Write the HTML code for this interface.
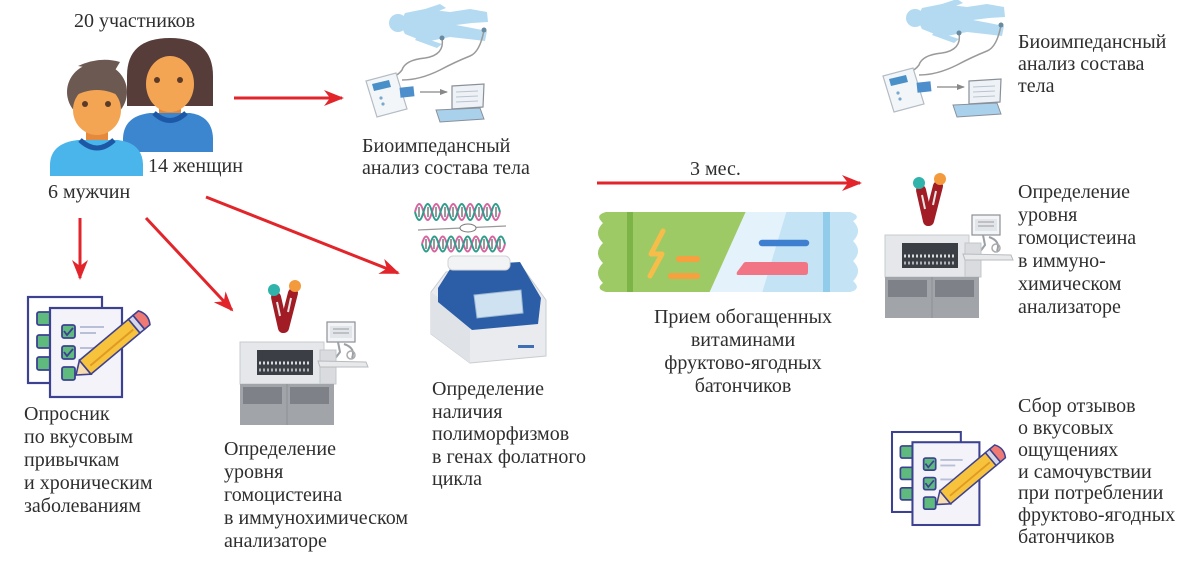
<!DOCTYPE html>
<html><head><meta charset="utf-8"><style>
html,body{margin:0;padding:0;background:#fff;}
svg{display:block;}
text{font-family:"Liberation Serif","DejaVu Serif",serif;font-size:20px;fill:#2e2e2e;}
</style></head><body>
<svg width="1200" height="563" viewBox="0 0 1200 563" xmlns="http://www.w3.org/2000/svg">
<defs>
<marker id="ah" markerWidth="20" markerHeight="16" refX="18" refY="8" orient="auto" markerUnits="userSpaceOnUse">
<path d="M0,0 L20,8 L0,16 L6,8 Z" fill="#e2252b"/>
</marker>
<marker id="gh" markerWidth="8" markerHeight="6" refX="7" refY="3" orient="auto" markerUnits="userSpaceOnUse">
<path d="M0,0 L8,3 L0,6 Z" fill="#888"/>
</marker>
<clipPath id="wrap">
<path d="M606,212 L850,212 Q862,216 853,221 Q863,231 853,241 Q863,251 853,261 Q863,271 853,281 Q862,289 850,292 L606,292 Q595,289 603,283 Q593,273 603,263 Q593,253 603,243 Q593,233 603,223 Q594,215 606,212 Z"/>
</clipPath>
<g id="bio">
<!-- lying body -->
<circle cx="398" cy="23" r="9" fill="#b3daf1"/>
<path d="M405,13 L425,9 L450,12 L470,9 L487,12 L488,22 L472,23 L456,25 L472,28 L487,31 L485,41 L468,39 L450,37 L425,42 L405,34 Q399,24 405,13 Z" fill="#b3daf1"/>
<path d="M416,12 L440,4 L446,8 L424,17 Z" fill="#b3daf1"/>
<path d="M418,36 L442,44 L437,48 L415,40 Z" fill="#b3daf1"/>
<!-- cables -->
<path d="M442,38 Q445,55 425,58 Q405,60 402,70 Q396,78 390,75" fill="none" stroke="#9a9a9a" stroke-width="1.5"/>
<path d="M484,30 Q480,52 470,56 Q455,62 440,70 Q420,80 402,80" fill="none" stroke="#9a9a9a" stroke-width="1.5"/>
<circle cx="442" cy="38" r="2.5" fill="#6a8aa0"/>
<circle cx="484" cy="30" r="2.5" fill="#6a8aa0"/>
<!-- device -->
<path d="M366,81 L396,73 L407,109 L377,117 Z" fill="#f3f6f9" stroke="#b4bcc4" stroke-width="1.2"/>
<path d="M372,84 L389,80 L391,87 L374,91 Z" fill="#4a90c8"/>
<circle cx="381" cy="98" r="1.6" fill="#7aa9cc"/>
<circle cx="383" cy="104" r="1.6" fill="#7aa9cc"/>
<rect x="400" y="87" width="14" height="10" fill="#4d8fcc" transform="rotate(-6 407 92)"/>
<line x1="420" y1="92" x2="447" y2="92" stroke="#888" stroke-width="1.2" marker-end="url(#gh)"/>
<!-- laptop -->
<path d="M452,86 L484,84 L483,107 L452,109 Z" fill="#eef2f6" stroke="#8a9099" stroke-width="1.2"/>
<line x1="456" y1="92" x2="478" y2="91" stroke="#b8c4cf" stroke-width="1"/>
<line x1="456" y1="97" x2="478" y2="96" stroke="#b8c4cf" stroke-width="1"/>
<line x1="456" y1="102" x2="478" y2="101" stroke="#b8c4cf" stroke-width="1"/>
<path d="M436,110 L480,108 L484,119 L440,122 Z" fill="#a9d1ec" stroke="#8a9099" stroke-width="1"/>
</g>
<g id="analyzer">
<!-- tubes -->
<line x1="276" y1="297" x2="283" y2="328" stroke="#a11c24" stroke-width="10" stroke-linecap="round"/>
<line x1="293" y1="293" x2="284" y2="328" stroke="#a11c24" stroke-width="10" stroke-linecap="round"/>
<line x1="277" y1="302" x2="280" y2="316" stroke="#e6e6e6" stroke-width="2"/>
<line x1="291" y1="298" x2="288" y2="312" stroke="#e6e6e6" stroke-width="2"/>
<circle cx="274" cy="290" r="6" fill="#2fb3aa"/>
<circle cx="295" cy="286" r="6" fill="#f39a3c"/>
<!-- monitor -->
<rect x="327" y="322" width="28" height="20" fill="#f3f4f6" stroke="#8c9096" stroke-width="1.2"/>
<rect x="330" y="326" width="22" height="12" fill="#e2e6ea"/>
<line x1="333" y1="329" x2="349" y2="329" stroke="#999" stroke-width="1"/>
<line x1="333" y1="333" x2="349" y2="333" stroke="#999" stroke-width="1"/>
<path d="M338,342 L340,352 L334,360 M344,344 Q356,348 352,358" fill="none" stroke="#9aa0a6" stroke-width="2"/>
<circle cx="351" cy="355" r="4" fill="none" stroke="#aaa" stroke-width="1.5"/>
<!-- top body -->
<rect x="240" y="342" width="84" height="42" fill="#e5e7ea" stroke="#c8cbcf" stroke-width="1"/>
<rect x="257" y="350" width="56" height="25" fill="#3b3e44"/>
<line x1="259" y1="363" x2="311" y2="363" stroke="#d7d9dc" stroke-width="3" stroke-dasharray="2 2"/>
<line x1="259" y1="370" x2="311" y2="370" stroke="#b0b3b8" stroke-width="3" stroke-dasharray="2 2"/>
<rect x="320" y="350" width="16" height="34" fill="#d9dbde" stroke="#c4c7cb" stroke-width="1"/>
<path d="M318,361 L366,362 L368,367 L320,367 Z" fill="#e7e9eb" stroke="#b8bbbf" stroke-width="1"/>
<!-- lower cabinet -->
<rect x="240" y="384" width="94" height="41" fill="#a1a5aa"/>
<rect x="243" y="387" width="39" height="17" fill="#7e8288"/>
<rect x="290" y="387" width="39" height="17" fill="#7e8288"/>
<line x1="287" y1="384" x2="287" y2="425" stroke="#8d9196" stroke-width="1"/>
</g>
<g id="clip">
<rect x="28" y="297" width="74" height="86" fill="#fff" stroke="#3c4191" stroke-width="2.2"/>
<rect x="37" y="312" width="14" height="13" rx="2" fill="#5fba7d" stroke="#3c4191" stroke-width="1.8"/>
<rect x="37" y="335" width="14" height="13" rx="2" fill="#5fba7d" stroke="#3c4191" stroke-width="1.8"/>
<rect x="37" y="357" width="14" height="13" rx="2" fill="#5fba7d" stroke="#3c4191" stroke-width="1.8"/>
<rect x="50" y="308" width="72" height="89" fill="#f3f3f9" stroke="#3c4191" stroke-width="2.2"/>
<rect x="62" y="325" width="13" height="13" rx="2" fill="#5fba7d" stroke="#3c4191" stroke-width="1.8"/>
<rect x="62" y="346" width="13" height="13" rx="2" fill="#5fba7d" stroke="#3c4191" stroke-width="1.8"/>
<rect x="62" y="367" width="13" height="13" rx="2" fill="#5fba7d" stroke="#3c4191" stroke-width="1.8"/>
<path d="M64,331 L67,335 L73,328 M64,352 L67,356 L73,349" fill="none" stroke="#3c4191" stroke-width="1.8"/>
<line x1="80" y1="327" x2="104" y2="327" stroke="#b9bfd6" stroke-width="2"/>
<line x1="80" y1="333" x2="96" y2="333" stroke="#b9bfd6" stroke-width="2"/>
<line x1="80" y1="348" x2="96" y2="348" stroke="#b9bfd6" stroke-width="2"/>
<!-- pencil -->
<g transform="rotate(-40 76 375)">
<path d="M76,375 L88,366 L88,384 Z" fill="#f6dcb0" stroke="#3c4191" stroke-width="1.6"/>
<rect x="88" y="366" width="64" height="18" fill="#f7c23c" stroke="#3c4191" stroke-width="1.6"/>
<line x1="93" y1="377" x2="149" y2="377" stroke="#e09a23" stroke-width="2"/>
<rect x="152" y="366" width="6" height="18" fill="#d6d8e6" stroke="#3c4191" stroke-width="1.6"/>
<path d="M158,366 L165,366 Q171,375 165,384 L158,384 Z" fill="#ef7a74" stroke="#3c4191" stroke-width="1.6"/>
</g>
</g>
</defs>

<!-- People -->
<path d="M127,106 L127,76 Q127,38 170,38 Q213,38 213,76 L213,106 Z" fill="#563d3a"/>
<rect x="159" y="100" width="22" height="18" fill="#e58a3c"/>
<ellipse cx="170" cy="84" rx="24" ry="28" fill="#f3a554"/>
<circle cx="157" cy="80" r="3" fill="#5b3a28"/>
<circle cx="180" cy="80" r="3" fill="#5b3a28"/>
<path d="M123,152 L123,138 Q124,116 150,113 L190,113 Q212,116 213,138 L213,152 Z" fill="#3c86cf"/>
<path d="M154,113 Q170,128 186,113" fill="none" stroke="#1d58a6" stroke-width="5"/>

<ellipse cx="97" cy="92" rx="30" ry="29" fill="#6c5a52"/>
<path d="M78,66 Q100,56 120,62 L114,72 Z" fill="#6c5a52"/>
<rect x="86" y="122" width="22" height="22" fill="#e58a3c"/>
<ellipse cx="97" cy="110" rx="24" ry="25" fill="#f3a554"/>
<path d="M71,98 Q97,82 123,98 L123,90 Q97,70 71,90 Z" fill="#6c5a52"/>
<circle cx="85" cy="104" r="3" fill="#5b3a28"/>
<circle cx="108" cy="104" r="3" fill="#5b3a28"/>
<path d="M50,176 L50,164 Q51,143 78,140 L118,140 Q142,143 143,164 L143,176 Z" fill="#49b5ea"/>
<path d="M80,140 Q97,156 114,140" fill="none" stroke="#1d58a6" stroke-width="5"/>

<text x="74" y="27">20 участников</text>
<text x="148" y="172">14 женщин</text>
<text x="48" y="198">6 мужчин</text>

<!-- arrows -->
<g stroke="#e2252b" stroke-width="3" fill="none">
<line x1="234" y1="98" x2="342" y2="98" marker-end="url(#ah)"/>
<line x1="80" y1="218" x2="80" y2="278" marker-end="url(#ah)"/>
<line x1="146" y1="218" x2="232" y2="310" marker-end="url(#ah)"/>
<line x1="206" y1="197" x2="398" y2="273" marker-end="url(#ah)"/>
<line x1="597" y1="183" x2="860" y2="183" marker-end="url(#ah)"/>
</g>

<!-- bio impedance -->
<use href="#bio"/>
<text x="362" y="152">Биоимпедансный</text>
<text x="362" y="174">анализ состава тела</text>
<use href="#bio" transform="translate(517,-5)"/>
<text x="1018" y="48">Биоимпедансный</text>
<text x="1018" y="70">анализ состава</text>
<text x="1018" y="92">тела</text>

<!-- questionnaire -->
<use href="#clip"/>
<text x="24" y="420">Опросник</text>
<text x="24" y="443">по вкусовым</text>
<text x="24" y="466">привычкам</text>
<text x="24" y="489">и хроническим</text>
<text x="24" y="512">заболеваниям</text>
<use href="#clip" transform="translate(892,432) scale(0.93) translate(-28,-297)"/>
<text x="1018" y="412">Сбор отзывов</text>
<text x="1018" y="434">о вкусовых</text>
<text x="1018" y="456">ощущениях</text>
<text x="1018" y="478">и самочувствии</text>
<text x="1018" y="499">при потреблении</text>
<text x="1018" y="521">фруктово-ягодных</text>
<text x="1018" y="543">батончиков</text>

<!-- analyzer -->
<use href="#analyzer"/>
<text x="224" y="455">Определение</text>
<text x="224" y="478">уровня</text>
<text x="224" y="501">гомоцистеина</text>
<text x="224" y="524">в иммунохимическом</text>
<text x="224" y="547">анализаторе</text>
<use href="#analyzer" transform="translate(645,-107)"/>
<text x="1018" y="198">Определение</text>
<text x="1018" y="221">уровня</text>
<text x="1018" y="244">гомоцистеина</text>
<text x="1018" y="267">в иммуно-</text>
<text x="1018" y="290">химическом</text>
<text x="1018" y="313">анализаторе</text>

<!-- PCR -->
<g fill="none" stroke-width="2">
<path d="M415,212 q4.25,-16 8.5,0 t8.5,0 t8.5,0 t8.5,0 t8.5,0 t8.5,0 t8.5,0 t8.5,0 t8.5,0 t8.5,0" stroke="#d565a0"/>
<path d="M415,212 q4.25,16 8.5,0 t8.5,0 t8.5,0 t8.5,0 t8.5,0 t8.5,0 t8.5,0 t8.5,0 t8.5,0 t8.5,0" stroke="#2f9c8c"/>
<path d="M422,244 q4.15,-15 8.3,0 t8.3,0 t8.3,0 t8.3,0 t8.3,0 t8.3,0 t8.3,0 t8.3,0 t8.3,0 t8.3,0" stroke="#d565a0"/>
<path d="M422,244 q4.15,15 8.3,0 t8.3,0 t8.3,0 t8.3,0 t8.3,0 t8.3,0 t8.3,0 t8.3,0 t8.3,0 t8.3,0" stroke="#2f9c8c"/>
</g>
<g stroke="#555" stroke-width="1.2">
<line x1="419" y1="207" x2="419" y2="217"/><line x1="428" y1="207" x2="428" y2="217"/><line x1="436" y1="207" x2="436" y2="217"/><line x1="445" y1="207" x2="445" y2="217"/><line x1="453" y1="207" x2="453" y2="217"/><line x1="462" y1="207" x2="462" y2="217"/><line x1="470" y1="207" x2="470" y2="217"/><line x1="479" y1="207" x2="479" y2="217"/><line x1="487" y1="207" x2="487" y2="217"/><line x1="496" y1="207" x2="496" y2="217"/>
<line x1="426" y1="239" x2="426" y2="249"/><line x1="434" y1="239" x2="434" y2="249"/><line x1="443" y1="239" x2="443" y2="249"/><line x1="451" y1="239" x2="451" y2="249"/><line x1="459" y1="239" x2="459" y2="249"/><line x1="467" y1="239" x2="467" y2="249"/><line x1="476" y1="239" x2="476" y2="249"/><line x1="484" y1="239" x2="484" y2="249"/><line x1="492" y1="239" x2="492" y2="249"/><line x1="500" y1="239" x2="500" y2="249"/>
</g>
<line x1="418" y1="230" x2="506" y2="226" stroke="#999" stroke-width="1.2"/>
<ellipse cx="468" cy="228" rx="8" ry="4" fill="#fff" stroke="#777" stroke-width="1"/>
<!-- PCR machine -->
<path d="M431,292 L446,272 L520,264 L546,300 L546,356 L470,363 L431,334 Z" fill="#e9ebee" stroke="#c9ccd0" stroke-width="1"/>
<path d="M431,292 L470,322 L470,363 L431,334 Z" fill="#dfe2e6"/>
<path d="M438,288 L452,266 L520,262 L541,298 L538,324 L472,330 L438,302 Z" fill="#2c5ea8"/>
<rect x="448" y="256" width="62" height="14" rx="5" fill="#f2f3f5" stroke="#d0d3d7" stroke-width="1"/>
<path d="M474,295 L521,290 L523,313 L477,318 Z" fill="#cfe2f2" stroke="#9db8d3" stroke-width="1"/>
<rect x="518" y="345" width="16" height="3" fill="#3e6fb5"/>
<text x="432" y="395">Определение</text>
<text x="432" y="418">наличия</text>
<text x="432" y="440">полиморфизмов</text>
<text x="432" y="463">в генах фолатного</text>
<text x="432" y="485">цикла</text>

<!-- candy bar -->
<g clip-path="url(#wrap)">
<rect x="590" y="200" width="280" height="100" fill="#d4ebf8"/>
<path d="M750,200 L790,200 L760,300 L705,300 Z" fill="#e3f2fb"/>
<path d="M790,200 L870,200 L870,300 L760,300 Z" fill="#c4e4f6"/>
<path d="M590,200 L751,200 L706,300 L590,300 Z" fill="#9dca65"/>
<rect x="627" y="200" width="6" height="100" fill="#7db448"/>
<rect x="823" y="200" width="7" height="100" fill="#91cdea"/>
</g>
<path d="M663,231 L651,254 L662,254 L650,276" fill="none" stroke="#f7bd4a" stroke-width="5" stroke-linecap="round" stroke-linejoin="round"/>
<line x1="679" y1="259" x2="697" y2="259" stroke="#f6a03f" stroke-width="6" stroke-linecap="round"/>
<line x1="671" y1="276" x2="697" y2="276" stroke="#f6a03f" stroke-width="6" stroke-linecap="round"/>
<line x1="762" y1="243" x2="806" y2="243" stroke="#3f7fcf" stroke-width="6.5" stroke-linecap="round"/>
<path d="M746,262 L805,262 Q808,262 808,265 L808,272 Q808,275 805,275 L738,275 Q736,275 737,272 L743,264 Q744,262 746,262 Z" fill="#f17584"/>
<text x="690" y="175">3 мес.</text>
<text x="743" y="323" text-anchor="middle">Прием обогащенных</text>
<text x="743" y="346" text-anchor="middle">витаминами</text>
<text x="743" y="369" text-anchor="middle">фруктово-ягодных</text>
<text x="743" y="392" text-anchor="middle">батончиков</text>
</svg>
</body></html>
